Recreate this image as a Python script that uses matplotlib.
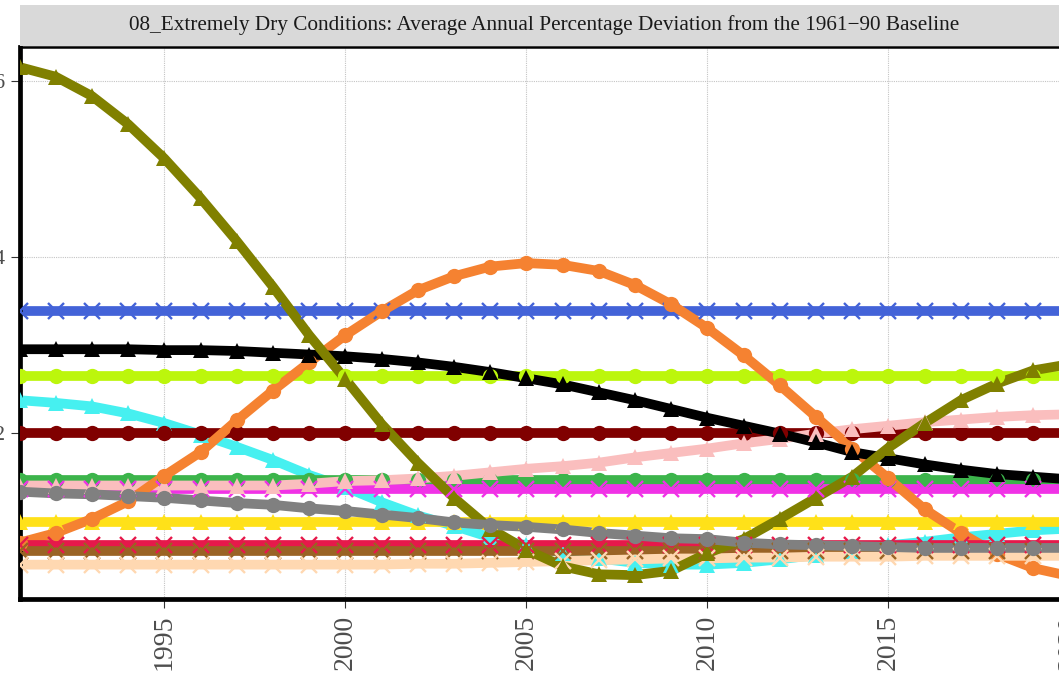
import matplotlib
matplotlib.use("Agg")
import matplotlib.pyplot as plt

plt.rcParams['font.family'] = ['Liberation Serif', 'DejaVu Serif']

years = list(range(1991, 2021))

# series (1991..2020)
olive = [6.16, 6.05, 5.83, 5.51, 5.12, 4.67, 4.18, 3.66, 3.11, 2.61, 2.10, 1.66, 1.26, 0.91, 0.67,
         0.48, 0.39, 0.38, 0.43, 0.63, 0.79, 1.02, 1.26, 1.50, 1.83, 2.11, 2.37, 2.56, 2.71, 2.78]
orange = [0.75, 0.86, 1.02, 1.22, 1.51, 1.78, 2.14, 2.48, 2.80, 3.11, 3.38, 3.62, 3.78, 3.89, 3.93,
          3.91, 3.84, 3.68, 3.46, 3.19, 2.88, 2.54, 2.18, 1.82, 1.48, 1.13, 0.86, 0.62, 0.46, 0.37]
black = [2.95, 2.95, 2.95, 2.95, 2.94, 2.94, 2.93, 2.91, 2.89, 2.87, 2.84, 2.80, 2.75, 2.69, 2.62,
         2.55, 2.46, 2.37, 2.27, 2.17, 2.08, 1.99, 1.89, 1.78, 1.71, 1.64, 1.58, 1.53, 1.50, 1.47]
cyan = [2.37, 2.34, 2.30, 2.22, 2.11, 1.98, 1.84, 1.69, 1.52, 1.38, 1.21, 1.06, 0.94, 0.81, 0.72,
        0.63, 0.57, 0.52, 0.50, 0.50, 0.52, 0.56, 0.61, 0.65, 0.72, 0.76, 0.81, 0.85, 0.89, 0.91]
pink = [1.40, 1.40, 1.40, 1.40, 1.40, 1.40, 1.40, 1.40, 1.42, 1.45, 1.46, 1.48, 1.51, 1.55, 1.59,
        1.62, 1.66, 1.72, 1.77, 1.82, 1.88, 1.93, 1.99, 2.04, 2.08, 2.12, 2.15, 2.18, 2.20, 2.21]
grey = [1.33, 1.31, 1.30, 1.28, 1.26, 1.23, 1.20, 1.18, 1.14, 1.11, 1.07, 1.03, 0.98, 0.95, 0.93,
        0.90, 0.86, 0.83, 0.80, 0.79, 0.75, 0.73, 0.72, 0.71, 0.70, 0.69, 0.69, 0.69, 0.69, 0.69]
apricot = [0.50, 0.50, 0.50, 0.50, 0.50, 0.50, 0.50, 0.50, 0.50, 0.50, 0.50, 0.51, 0.51, 0.52, 0.53,
           0.54, 0.55, 0.56, 0.57, 0.57, 0.58, 0.58, 0.59, 0.59, 0.59, 0.60, 0.60, 0.60, 0.60, 0.60]
blue = [3.38] * 30
lime = [2.65] * 30
maroon = [2.00] * 30
green = [1.46] * 30
magenta = [1.36] * 30
yellow = [0.98] * 30
red = [0.72] * 30
brown = [0.66] * 30

# (values, colour, marker) in drawing order, bottom first
series = [
    (cyan, '#46F0F0', '^'),
    (maroon, '#800000', 'o'),
    (green, '#3CB44B', 'o'),
    (magenta, '#F032E6', 'x'),
    (pink, '#FABEBE', '^'),
    (lime, '#BCF60C', 'o'),
    (blue, '#4363D8', 'x'),
    (yellow, '#FFE119', '^'),
    (orange, '#F58231', 'o'),
    (red, '#E6194B', 'x'),
    (brown, '#9A6324', 'x'),
    (apricot, '#FFD8B1', 'x'),
    (black, '#000000', '^'),
    (olive, '#808000', '^'),
    (grey, '#808080', 'o'),
]

W, H = 1059, 678
fig = plt.figure(figsize=(W / 100, H / 100), dpi=100)
ax = fig.add_axes([19.5 / W, (H - 599) / H, 1050 / W, 552 / H])

# lines first, points on top (like geom_line + geom_point)
for vals, col, mk in series:
    ax.plot(years, vals, color=col, lw=7.0, solid_capstyle='butt', zorder=2)
for vals, col, mk in series:
    if mk == 'x':
        ax.plot(years, vals, ls='none', color=col, marker='x', ms=11, mew=1.7, zorder=3)
    else:
        ax.plot(years, vals, ls='none', color=col, marker=mk, ms=11, mew=0, zorder=3)

ax.set_xlim(1991, 2020)
ax.set_ylim(0.109, 6.388)
ax.set_xticks([1995, 2000, 2005, 2010, 2015, 2020])
ax.set_yticks([2, 4, 6])
ax.grid(True, color='#c4c4c4', linestyle=(0, (1, 1)), linewidth=0.8)
ax.set_axisbelow(True)

for side in ['left', 'bottom']:
    ax.spines[side].set_linewidth(3.4)
ax.spines['top'].set_linewidth(1.8)
ax.spines['right'].set_visible(False)

ax.tick_params(axis='both', length=6.5, width=0.8, color='#333333', labelcolor='#4d4d4d')
ax.tick_params(axis='x', labelsize=20, pad=5, labelrotation=90)
ax.tick_params(axis='y', labelsize=16, pad=4)

# facet strip
strip = fig.add_axes([19.5 / W, (H - 46) / H, 1050 / W, 41 / H])
strip.set_facecolor('#d9d9d9')
strip.set_xticks([])
strip.set_yticks([])
for s in strip.spines.values():
    s.set_visible(False)
strip.text(0.5, 0.5, '08_Extremely Dry Conditions: Average Annual Percentage Deviation from the 1961\u221290 Baseline',
           ha='center', va='center', fontsize=15.3, color='#1a1a1a')

fig.savefig('out.png', dpi=100)
